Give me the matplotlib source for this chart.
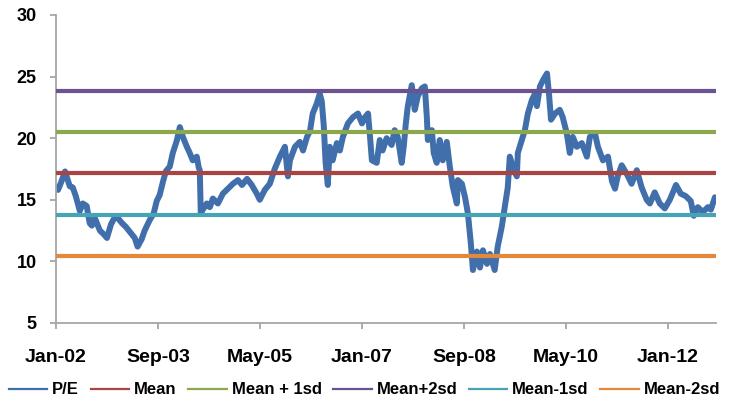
import matplotlib
matplotlib.use("Agg")
import matplotlib.pyplot as plt
import matplotlib.dates as mdates
from matplotlib.lines import Line2D
import pandas as pd

# P/E history (observation date, ratio)
pe_dates = [
    "2002-01-01", "2002-01-13", "2002-01-31", "2002-02-24", "2002-03-24", "2002-04-11",
    "2002-04-29", "2002-05-23", "2002-06-10", "2002-07-03", "2002-07-21", "2002-08-03",
    "2002-08-21", "2002-09-20", "2002-10-13", "2002-11-01", "2002-11-25", "2002-12-18",
    "2003-01-06", "2003-01-30", "2003-02-22", "2003-03-23", "2003-04-16", "2003-05-03",
    "2003-05-27", "2003-06-14", "2003-07-14", "2003-08-07", "2003-08-25", "2003-09-12",
    "2003-09-30", "2003-10-18", "2003-11-11", "2003-11-29", "2003-12-23", "2004-01-10",
    "2004-01-28", "2004-02-21", "2004-03-09", "2004-03-27", "2004-04-20", "2004-05-02",
    "2004-05-08", "2004-05-14", "2004-05-26", "2004-06-19", "2004-07-07", "2004-07-25",
    "2004-08-24", "2004-09-23", "2004-10-23", "2004-11-22", "2004-12-22", "2005-01-15",
    "2005-02-14", "2005-03-14", "2005-04-13", "2005-05-01", "2005-05-31", "2005-06-30",
    "2005-07-29", "2005-08-29", "2005-09-28", "2005-10-16", "2005-10-28", "2005-11-27",
    "2005-12-26", "2006-01-14", "2006-02-07", "2006-02-25", "2006-03-13", "2006-04-06",
    "2006-04-24", "2006-05-06", "2006-05-18", "2006-05-29", "2006-06-11", "2006-06-23",
    "2006-07-10", "2006-08-04", "2006-08-22", "2006-09-09", "2006-10-09", "2006-11-08",
    "2006-12-08", "2007-01-01", "2007-01-19", "2007-02-06", "2007-02-18", "2007-03-01",
    "2007-03-30", "2007-04-17", "2007-05-04", "2007-05-28", "2007-06-27", "2007-07-15",
    "2007-08-02", "2007-08-26", "2007-09-07", "2007-09-19", "2007-10-01", "2007-10-25",
    "2007-11-12", "2007-11-30", "2007-12-24", "2008-01-11", "2008-01-23", "2008-01-29",
    "2008-02-22", "2008-03-04", "2008-03-22", "2008-04-09", "2008-04-27", "2008-05-21",
    "2008-06-08", "2008-06-26", "2008-07-20", "2008-07-26", "2008-08-19", "2008-09-07",
    "2008-09-24", "2008-10-12", "2008-10-24", "2008-11-17", "2008-12-05", "2008-12-23",
    "2009-01-16", "2009-02-03", "2009-03-03", "2009-03-21", "2009-04-14", "2009-05-02",
    "2009-05-20", "2009-06-01", "2009-06-19", "2009-07-13", "2009-07-19", "2009-08-12",
    "2009-08-30", "2009-09-17", "2009-10-11", "2009-10-29", "2009-11-10", "2009-11-28",
    "2009-12-16", "2010-01-09", "2010-01-21", "2010-02-02", "2010-02-26", "2010-03-26",
    "2010-04-13", "2010-05-07", "2010-05-25", "2010-06-12", "2010-07-06", "2010-08-05",
    "2010-09-04", "2010-09-22", "2010-10-22", "2010-11-09", "2010-12-09", "2011-01-08",
    "2011-02-01", "2011-02-19", "2011-03-07", "2011-03-31", "2011-04-30", "2011-05-29",
    "2011-06-29", "2011-07-28", "2011-08-27", "2011-09-15", "2011-10-14", "2011-11-13",
    "2011-12-13", "2012-01-12", "2012-02-18", "2012-03-17", "2012-04-16", "2012-05-16",
    "2012-06-03", "2012-06-27", "2012-07-27", "2012-08-26", "2012-09-13", "2012-10-07",
]
pe_values = [
    16.0, 15.8, 16.4, 17.3, 16.1, 16.0,
    15.3, 14.1, 14.7, 14.5, 13.1, 12.9,
    13.5, 12.5, 12.2, 11.9, 13.0, 13.6,
    13.5, 13.1, 12.8, 12.3, 11.9, 11.2,
    11.8, 12.5, 13.35, 13.9, 14.9, 15.4,
    16.4, 17.3, 17.7, 18.8, 19.8, 20.9,
    20.1, 19.3, 18.8, 18.2, 18.5, 17.6,
    17.4, 13.9, 14.2, 14.7, 14.4, 15.1,
    14.7, 15.5, 15.9, 16.3, 16.6, 16.2,
    16.7, 16.2, 15.5, 15.0, 15.8, 16.3,
    17.5, 18.5, 19.3, 16.9, 18.2, 19.3,
    19.7, 19.0, 20.1, 20.6, 22.0, 22.8,
    23.6, 23.0, 21.0, 18.0, 16.2, 19.3,
    18.2, 19.6, 19.0, 20.1, 21.2, 21.7,
    22.0, 21.2, 21.7, 22.0, 20.1, 18.2,
    18.0, 19.85, 19.0, 20.0, 19.45, 20.65,
    20.1, 18.0, 19.3, 21.1, 22.55, 24.3,
    22.3, 23.4, 24.05, 24.2, 21.7, 19.85,
    20.65, 18.8, 18.0, 19.85, 18.2, 19.7,
    17.7, 16.05, 14.7, 16.6, 16.3, 15.2,
    13.9, 11.4, 9.3, 10.8, 9.5, 10.9,
    9.8, 10.6, 9.3, 11.2, 12.8, 14.4,
    16.0, 18.5, 17.7, 16.9, 18.8, 19.85,
    20.65, 22.0, 23.1, 23.6, 22.6, 24.2,
    24.7, 25.25, 23.6, 21.5, 22.0, 22.3,
    21.7, 20.4, 18.8, 20.1, 19.3, 19.6,
    18.5, 20.1, 20.4, 19.3, 18.2, 18.5,
    16.5, 15.9, 16.9, 17.8, 17.1, 16.3,
    17.4, 16.0, 15.0, 14.7, 15.6, 14.7,
    14.3, 15.0, 16.2, 15.5, 15.3, 14.9,
    13.7, 14.4, 14.0, 14.4, 14.2, 15.2,
]

# Long-run average and standard deviation of the ratio
pe_mean = 17.15
pe_sd = 3.35

band_labels = ["Mean", "Mean + 1sd", "Mean+2sd", "Mean-1sd", "Mean-2sd"]
band_offsets = [0, 1, 2, -1, -2]
band_colors = ["#A94442", "#8BA84C", "#6B5391", "#47A3B6", "#E4893C"]
pe_color = "#416FAB"

tick_dates = ["2002-01-01", "2003-09-01", "2005-05-01", "2007-01-01",
              "2008-09-01", "2010-05-01", "2012-01-01"]
tick_labels = ["Jan-02", "Sep-03", "May-05", "Jan-07", "Sep-08", "May-10", "Jan-12"]

font = "Liberation Sans"
axis_gray = "#A6A6A6"

fig = plt.figure(figsize=(7.35, 4.04), dpi=100)
ax = fig.add_axes([0.0762, 0.2005, 0.8978, 0.7625])

dates = pd.to_datetime(pe_dates)
ax.plot(dates, pe_values, color=pe_color, lw=4.3, solid_joinstyle="round",
        solid_capstyle="round", zorder=2)

for off, col in zip(band_offsets, band_colors):
    ax.axhline(pe_mean + off * pe_sd, color=col, lw=3.0, zorder=3)

ax.set_xlim(pd.Timestamp("2002-01-01"), pd.Timestamp("2012-10-13"))
ax.set_ylim(5, 30)
ax.set_yticks([5, 10, 15, 20, 25, 30])
ax.set_xticks(mdates.date2num(pd.to_datetime(tick_dates)))
ax.set_xticklabels(tick_labels)

for side in ("top", "right"):
    ax.spines[side].set_visible(False)
for side in ("left", "bottom"):
    ax.spines[side].set_color(axis_gray)
    ax.spines[side].set_linewidth(1.3)

ax.tick_params(axis="both", direction="out", length=4, width=1.3, color=axis_gray)
ax.tick_params(axis="y", pad=10)
ax.tick_params(axis="x", pad=15)
for lab in ax.get_yticklabels():
    lab.set_fontfamily(font)
    lab.set_fontweight("bold")
    lab.set_fontsize(13)
for lab in ax.get_xticklabels():
    lab.set_fontfamily(font)
    lab.set_fontweight("bold")
    lab.set_fontsize(14)

handles = [Line2D([], [], color=pe_color, lw=1.6)]
handles += [Line2D([], [], color=c, lw=1.6) for c in band_colors]
labels = ["P/E"] + band_labels
fig.legend(handles, labels, loc="center left", bbox_to_anchor=(0.012, 0.035),
           ncol=6, frameon=False, handlelength=2.3, handletextpad=0.3,
           columnspacing=0.7, borderaxespad=0.0, borderpad=0.0,
           prop={"family": font, "weight": "bold", "size": 12})

fig.savefig("out.png", dpi=100)
